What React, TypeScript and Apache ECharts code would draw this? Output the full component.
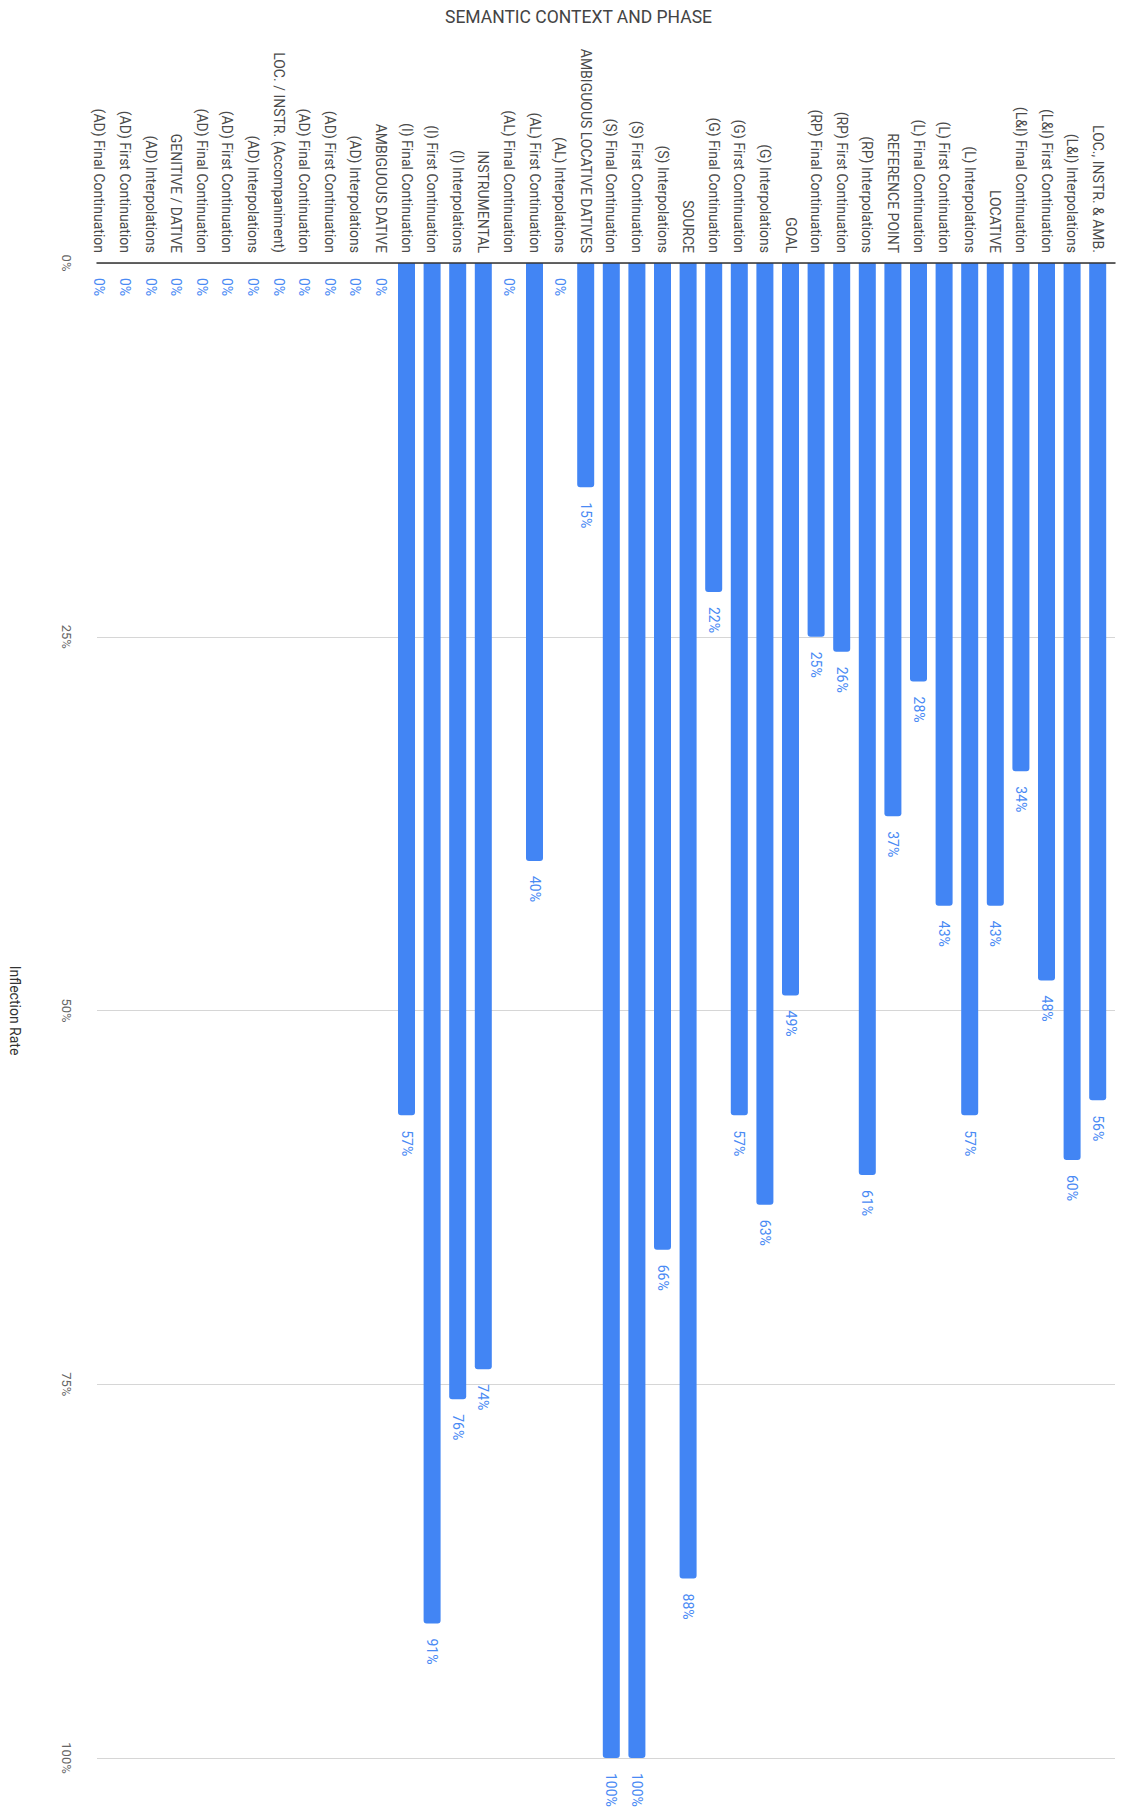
import React, { useEffect, useRef } from "react";
import * as echarts from "echarts";

const categories: string[] = [
  "(AD) Final Continuation",
  "(AD) First Continuation",
  "(AD) Interpolations",
  "GENITIVE / DATIVE",
  "(AD) Final Continuation",
  "(AD) First Continuation",
  "(AD) Interpolations",
  "LOC. / INSTR. (Accompaniment)",
  "(AD) Final Continuation",
  "(AD) First Continuation",
  "(AD) Interpolations",
  "AMBIGUOUS DATIVE",
  "(I) Final Continuation",
  "(I) First Continuation",
  "(I) Interpolations",
  "INSTRUMENTAL",
  "(AL) Final Continuation",
  "(AL) First Continuation",
  "(AL) Interpolations",
  "AMBIGUOUS LOCATIVE DATIVES",
  "(S) Final Continuation",
  "(S) First Continuation",
  "(S) Interpolations",
  "SOURCE",
  "(G) Final Continuation",
  "(G) First Continuation",
  "(G) Interpolations",
  "GOAL",
  "(RP) Final Continuation",
  "(RP) First Continuation",
  "(RP) Interpolations",
  "REFERENCE POINT",
  "(L) Final Continuation",
  "(L) First Continuation",
  "(L) Interpolations",
  "LOCATIVE",
  "(L&I) Final Continuation",
  "(L&I) First Continuation",
  "(L&I) Interpolations",
  "LOC., INSTR. & AMB.",
];

const inflectionRate: number[] = [
  0, 0, 0, 0, 0, 0, 0, 0, 0, 0, 0, 0,
  57, 91, 76, 74,
  0, 40, 0, 15,
  100, 100, 66, 88,
  22, 57, 63, 49,
  25, 26, 61, 37,
  28, 43, 57, 43,
  34, 48, 60, 56,
];

const yTicks = { min: 0, max: 100, interval: 25 };

const FONT = "Roboto, 'Noto Sans', sans-serif";

export default function App() {
  const ref = useRef<HTMLDivElement>(null);

  useEffect(() => {
    if (!ref.current) return;
    const chart = echarts.init(ref.current, undefined, { renderer: "svg" });
    const gridTop = 263;
    const gridHeight = 1495;
    chart.setOption({
      animation: false,
      backgroundColor: "#ffffff",
      textStyle: { fontFamily: FONT },
      title: {
        text: "SEMANTIC CONTEXT AND PHASE",
        left: 440,
        top: 3,
        textStyle: {
          fontFamily: FONT,
          fontSize: 17.5,
          fontWeight: "normal",
          color: "#444444",
        },
      },
      grid: [
        { left: 79, top: gridTop, width: 1036, height: gridHeight },
        { left: 86.5, top: gridTop, width: 1024, height: gridHeight },
      ],
      xAxis: [
        {
          gridIndex: 0,
          type: "category",
          data: [""],
          position: "top",
          axisLine: { show: true, lineStyle: { color: "#333333", width: 1.5 } },
          axisTick: { show: false },
          axisLabel: { show: false },
          splitLine: { show: false },
          z: 5,
        },
        {
          gridIndex: 1,
          type: "category",
          data: categories,
          position: "top",
          axisLine: { show: false },
          axisTick: { show: false },
          axisLabel: {
            interval: 0,
            rotate: -90,
            margin: 10,
            fontFamily: FONT,
            fontSize: 14,
            color: "#4a4a4a",
          },
        },
      ],
      yAxis: [
        {
          gridIndex: 0,
          type: "value",
          inverse: true,
          min: yTicks.min,
          max: yTicks.max,
          interval: yTicks.interval,
          name: "Inflection Rate",
          nameLocation: "middle",
          nameRotate: -90,
          nameGap: 75,
          nameTextStyle: { fontFamily: FONT, fontSize: 14, color: "#333333" },
          axisLine: { show: false },
          axisTick: { show: false },
          axisLabel: {
            rotate: -90,
            margin: 24,
            formatter: "{value}%",
            fontFamily: FONT,
            fontSize: 13,
            color: "#666666",
          },
          splitLine: { show: true, lineStyle: { color: "#d6d6d6", width: 1 } },
        },
        {
          gridIndex: 1,
          type: "value",
          inverse: true,
          min: yTicks.min,
          max: yTicks.max,
          show: false,
          splitLine: { show: false },
        },
      ],
      series: [
        {
          type: "bar",
          name: "Inflection Rate",
          xAxisIndex: 1,
          yAxisIndex: 1,
          data: inflectionRate,
          barWidth: 17,
          itemStyle: { color: "#4285f4", borderRadius: [0, 0, 3, 3] },
          label: {
            show: true,
            position: "bottom",
            distance: 15,
            rotate: -90,
            align: "left",
            verticalAlign: "middle",
            formatter: "{c}%",
            fontFamily: FONT,
            fontSize: 14,
            color: "#4a8af4",
          },
        },
      ],
    });
    return () => chart.dispose();
  }, []);

  return (
    <div
      ref={ref}
      style={{ position: "absolute", left: 0, top: 0, width: 1125, height: 1815 }}
    />
  );
}
